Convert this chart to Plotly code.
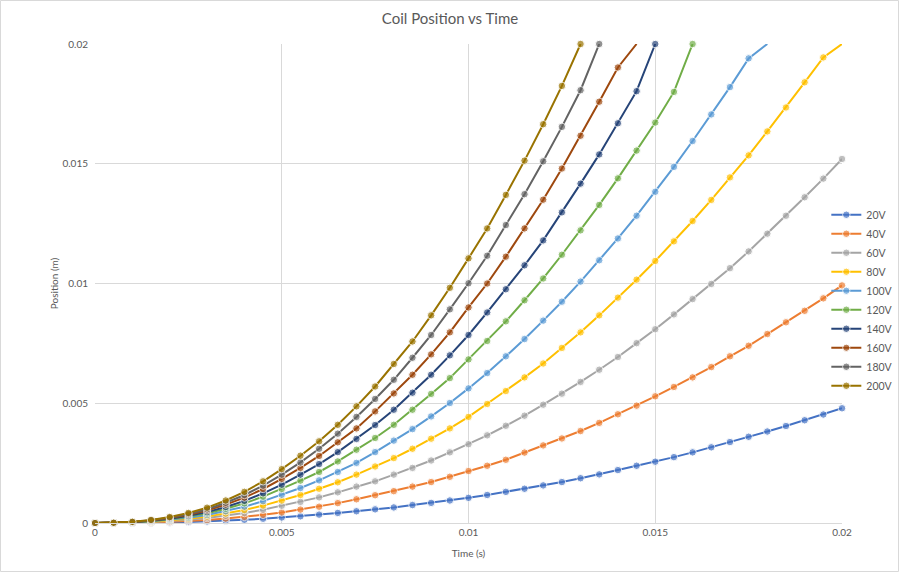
import plotly.graph_objects as go

time_s = [0, 0.0005, 0.001, 0.0015, 0.002, 0.0025, 0.003, 0.0035, 0.004, 0.0045,
          0.005, 0.0055, 0.006, 0.0065, 0.007, 0.0075, 0.008, 0.0085, 0.009, 0.0095,
          0.01, 0.0105, 0.011, 0.0115, 0.012, 0.0125, 0.013, 0.0135, 0.014, 0.0145,
          0.015, 0.0155, 0.016, 0.0165, 0.017, 0.0175, 0.018, 0.0185, 0.019, 0.0195, 0.02]

pos_20V = [0, 0.000001, 0.000005, 0.000013, 0.000026, 0.000043, 0.000065, 0.000096, 0.000133, 0.000178,
           0.00023, 0.00028, 0.00035, 0.00042, 0.00049, 0.00057, 0.00065, 0.00075, 0.00084, 0.00094,
           0.00105, 0.00117, 0.0013, 0.00143, 0.00157, 0.00171, 0.00187, 0.00203, 0.00221, 0.00239,
           0.00256, 0.00275, 0.00295, 0.00316, 0.00338, 0.0036, 0.00382, 0.00405, 0.00429, 0.00453, 0.00479]
pos_40V = [0, 0.000002, 0.00001, 0.000026, 0.000049, 0.000082, 0.000125, 0.000184, 0.000254, 0.00034,
           0.00044, 0.00056, 0.00068, 0.00083, 0.00099, 0.00116, 0.00133, 0.00152, 0.00171, 0.00193,
           0.00217, 0.00239, 0.00264, 0.00294, 0.00324, 0.00353, 0.00384, 0.00418, 0.00454, 0.0049,
           0.00529, 0.00568, 0.00608, 0.00651, 0.00696, 0.0074, 0.00789, 0.00838, 0.00886, 0.00938, 0.00992]
pos_60V = [0, 0.000003, 0.000016, 0.000042, 0.00008, 0.000135, 0.000204, 0.0003, 0.000416, 0.000557,
           0.00072, 0.00088, 0.00107, 0.00128, 0.00152, 0.00174, 0.00202, 0.0023, 0.00261, 0.00295,
           0.00329, 0.00366, 0.00406, 0.00448, 0.00494, 0.0054, 0.00589, 0.0064, 0.00693, 0.00751,
           0.00809, 0.00871, 0.00935, 0.00998, 0.01064, 0.01134, 0.01208, 0.01283, 0.0136, 0.01438, 0.0152]
pos_80V = [0, 0.000004, 0.000021, 0.000055, 0.000104, 0.000176, 0.000267, 0.000393, 0.000543, 0.000727,
           0.00094, 0.00117, 0.00143, 0.0017, 0.00202, 0.00236, 0.00271, 0.0031, 0.00352, 0.00395,
           0.00443, 0.00497, 0.00551, 0.00608, 0.00666, 0.00731, 0.00796, 0.00867, 0.00941, 0.01016,
           0.01094, 0.01176, 0.01261, 0.01349, 0.01443, 0.01535, 0.01635, 0.01735, 0.0184, 0.01944, 0.02]
pos_100V = [0, 0.000005, 0.000026, 0.000068, 0.000131, 0.000221, 0.000335, 0.000493, 0.000682, 0.000912,
            0.00118, 0.00146, 0.00178, 0.00213, 0.00251, 0.00296, 0.00344, 0.00392, 0.00445, 0.00501,
            0.00562, 0.00626, 0.00696, 0.00768, 0.00845, 0.00924, 0.01008, 0.01097, 0.01188, 0.01283,
            0.01383, 0.01487, 0.01595, 0.01706, 0.0182, 0.0194, 0.02]
pos_120V = [0, 0.000006, 0.000031, 0.000082, 0.000158, 0.000266, 0.000403, 0.000594, 0.000821, 0.0011,
            0.00142, 0.00177, 0.00213, 0.00257, 0.00306, 0.00355, 0.0041, 0.00473, 0.00539, 0.00605,
            0.00683, 0.0076, 0.00842, 0.0093, 0.01021, 0.0112, 0.01222, 0.01328, 0.01439, 0.01555,
            0.01672, 0.018, 0.02]
pos_140V = [0, 0.000007, 0.000035, 0.000093, 0.000178, 0.000299, 0.000454, 0.000669, 0.000925, 0.00124,
            0.0016, 0.00202, 0.00246, 0.00296, 0.00351, 0.00409, 0.00473, 0.00544, 0.00619, 0.007,
            0.00785, 0.00879, 0.00976, 0.01076, 0.0118, 0.01297, 0.01417, 0.01539, 0.01669, 0.01803,
            0.02]
pos_160V = [0, 0.000008, 0.00004, 0.000107, 0.000204, 0.000344, 0.000523, 0.000769, 0.00106, 0.00142,
            0.00184, 0.0023, 0.0028, 0.00337, 0.00395, 0.00466, 0.00541, 0.00619, 0.00704, 0.00796,
            0.009, 0.01, 0.01112, 0.0123, 0.0135, 0.0148, 0.01617, 0.01759, 0.01902, 0.02]
pos_180V = [0, 0.000009, 0.000044, 0.000117, 0.000224, 0.000378, 0.000574, 0.000844, 0.00117, 0.00156,
            0.00202, 0.00253, 0.0031, 0.00373, 0.00443, 0.00518, 0.00598, 0.0069, 0.00785, 0.00892,
            0.01001, 0.01116, 0.01244, 0.01373, 0.0151, 0.01654, 0.01807, 0.02]
pos_200V = [0, 0.00001, 0.00005, 0.00013, 0.00025, 0.00042, 0.00064, 0.00094, 0.0013, 0.00174,
            0.00225, 0.00281, 0.00341, 0.0041, 0.00487, 0.0057, 0.00664, 0.00758, 0.00867, 0.00982,
            0.01105, 0.0123, 0.0137, 0.01513, 0.01665, 0.01825, 0.02]

series_names = ["20V", "40V", "60V", "80V", "100V", "120V", "140V", "160V", "180V", "200V"]
series_values = [pos_20V, pos_40V, pos_60V, pos_80V, pos_100V, pos_120V, pos_140V, pos_160V, pos_180V, pos_200V]
series_colors = ["#4472C4", "#ED7D31", "#A5A5A5", "#FFC000", "#5B9BD5",
                 "#70AD47", "#264478", "#9E480E", "#636363", "#997300"]
# series whose last point sits just past the top of the axis (no marker drawn there)
hidden_last_marker = {"80V", "100V", "160V"}

x_ticks = [0, 0.005, 0.01, 0.015, 0.02]
x_ticktext = ["0", "0.005", "0.01", "0.015", "0.02"]
y_ticks = [0, 0.005, 0.01, 0.015, 0.02]
y_ticktext = ["0", "0.005", "0.01", "0.015", "0.02"]

FONT = "Lato"
TXT = "#595959"
GRID = "#D9D9D9"

fig = go.Figure()
for name, vals, col in zip(series_names, series_values, series_colors):
    n = len(vals)
    sizes = [7.5] * n
    if name in hidden_last_marker:
        sizes[-1] = 0
    fig.add_trace(go.Scatter(
        x=time_s[:n], y=vals, name=name, mode="lines+markers",
        line=dict(color=col, width=2),
        marker=dict(color=col, size=sizes),
        cliponaxis=False,
    ))

W, H = 900, 573
L, R, T, B = 95, 58, 44, 50
fig.update_layout(
    width=W, height=H,
    margin=dict(l=L, r=R, t=T, b=B, autoexpand=False),
    paper_bgcolor="white", plot_bgcolor="white",
    font=dict(family=FONT, color=TXT, size=10),
    title=dict(text="Coil Position vs Time", x=0.5, xanchor="center",
               y=1 - 19 / H, yref="container", yanchor="middle",
               font=dict(family=FONT, size=15, color=TXT)),
    xaxis=dict(range=[0, 0.02], tickvals=x_ticks, ticktext=x_ticktext,
               showgrid=True, gridcolor=GRID, gridwidth=1,
               zeroline=False, showline=True, linecolor=GRID, linewidth=1,
               ticks="", tickfont=dict(size=10, color=TXT), automargin=False,
               title=dict(text="Time (s)", font=dict(size=10, color=TXT), standoff=12)),
    yaxis=dict(range=[0, 0.02], tickvals=y_ticks, ticktext=y_ticktext,
               showgrid=True, gridcolor=GRID, gridwidth=1,
               zeroline=False, showline=False, automargin=False,
               ticks="", tickfont=dict(size=10, color=TXT), ticklabelstandoff=6,
               title=dict(text="Position (m)", font=dict(size=10, color=TXT), standoff=1)),
    legend=dict(x=0.979, xanchor="left", y=0.465, yanchor="middle",
                bgcolor="rgba(0,0,0,0)", font=dict(size=10.5, color=TXT),
                tracegroupgap=0, itemwidth=30),
    showlegend=True,
)
# light outer chart border
fig.add_shape(type="rect", xref="paper", yref="paper",
              x0=-(L - 0.5) / (W - L - R), x1=1 + (R - 1.5) / (W - L - R),
              y0=-(B - 1.5) / (H - T - B), y1=1 + (T - 0.5) / (H - T - B),
              line=dict(color=GRID, width=1), fillcolor="rgba(0,0,0,0)", layer="below")

fig.write_html("out.html", config={"displayModeBar": False},
               post_script="document.body.style.margin='0px';")
